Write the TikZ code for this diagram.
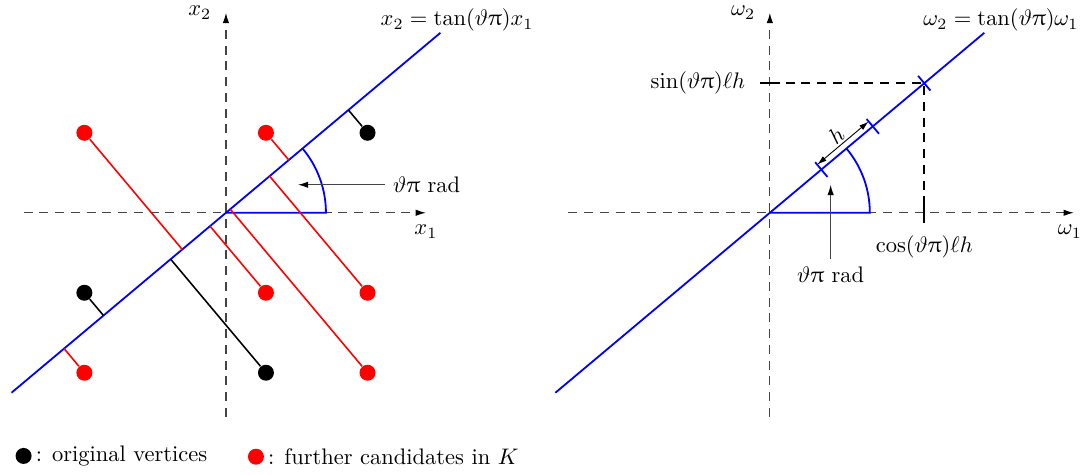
\documentclass[tikz,border=0pt]{standalone}
\usepackage{amsmath,amssymb}
\usepackage{upgreek}
\usetikzlibrary{arrows.meta,positioning,calc}
\definecolor{lineblue}{HTML}{0000FF}
\definecolor{candred}{HTML}{FF0000}
\definecolor{axisgray}{HTML}{444444}
\tikzset{
  axisline/.style={draw=axisgray,dash pattern=on 4pt off 3pt,line width=0.5pt,-{Latex[length=1.6mm,width=1mm,black]}},
  fitline/.style={draw=lineblue,line width=0.8pt},
  vertex/.style={circle,fill=black,inner sep=0pt,minimum size=2.5mm},
  cand/.style={circle,fill=candred,inner sep=0pt,minimum size=2.5mm},
  projblack/.style={draw=black,line width=0.7pt},
  projred/.style={draw=candred,line width=0.7pt},
  lblarrow/.style={draw=axisgray,line width=0.5pt,-{Latex[length=1.6mm,width=1mm,black]}},
  hmark/.style={draw=black,line width=0.4pt,{Latex[length=1.5mm,width=0.9mm]}-{Latex[length=1.5mm,width=0.9mm]}},
  guide/.style={draw=black,dash pattern=on 4pt off 3pt,line width=0.9pt},
  tickmark/.style={draw=black,line width=0.9pt},
  bluetick/.style={draw=lineblue,line width=0.8pt},
  legend/.style={anchor=west,inner sep=1pt}
}

\begin{document}
\begin{tikzpicture}[x=1.25cm,y=1.25cm]
\path[use as bounding box] (-2.825,-3.275) rectangle (10.69,2.66);

% left panel: axes
\coordinate (lo) at (0,0);
\draw[axisline] (-2.53,0) -- (2.5,0);
\draw[axisline] (0,-2.55) -- (0,2.5);
\node[below=2pt] (lx1) at (2.5,0) {$x_1$};
\node[left=3pt] (lx2) at (0,2.5) {$x_2$};
% line through origin and angle
\coordinate (la) at (220:3.5); \coordinate (lb) at (40:3.5);
\draw[fitline] (la) -- (lb);
\node (leq) at (2.89,2.41) {$x_2=\tan(\vartheta\uppi)x_1$};
\draw[fitline] (lo) -- (1.25,0) arc[start angle=0,end angle=40,radius=1.25];
\node (lrad) at (2.51,0.35) {$\vartheta\uppi$ rad}; \coordinate (ltip) at (0.9,0.35);
\draw[lblarrow] (lrad) -- (ltip);

% points and their projections onto the line
\foreach \n/\p in {c1/{(-1.77,1)},c2/{(0.5,1)},c3/{(0.5,-1)},c4/{(1.77,-1)},c5/{(-1.77,-2)},c6/{(1.77,-2)}}{
\node[cand] (\n) at \p {};
\draw[projred] (\n) -- ($(la)!(\n)!(lb)$);
}
\foreach \n/\p in {v1/{(1.77,1)},v2/{(-1.77,-1)},v3/{(0.5,-2)}}{
\node[vertex] (\n) at \p {};
\draw[projblack] (\n) -- ($(la)!(\n)!(lb)$);
}

% legend
\node[vertex] (lgv) at (-2.53,-3.04) {};
\node[legend,right=0.5pt of lgv] (lgvt) {: original vertices};
\node[cand] (lgc) at (0.375,-3.05) {};
\node[legend,right=0.5pt of lgc] (lgct) {: further candidates in $K$};

% right panel: axes
\coordinate (ro) at (6.8,0);
\draw[axisline] ($(ro)+(-2.52,0)$) -- ($(ro)+(3.8,0)$);
\draw[axisline] ($(ro)+(0,-2.55)$) -- ($(ro)+(0,2.5)$);
\node[below=2pt] (rw1) at ($(ro)+(3.75,0)$) {$\omega_1$};
\node[left=3pt] (rw2) at ($(ro)+(0,2.5)$) {$\omega_2$};
\coordinate (ra) at ($(ro)+(220:3.5)$); \coordinate (rb) at ($(ro)+(40:3.5)$);
\draw[fitline] (ra) -- (rb);
\node (req) at ($(ro)+(2.89,2.41)$) {$\omega_2=\tan(\vartheta\uppi)\omega_1$};
\draw[fitline] (ro) -- ($(ro)+(1.25,0)$) arc[start angle=0,end angle=40,radius=1.25];
% steps of length h along the line
\foreach \k in {1,2,3}{
\draw[bluetick] ($(ro)+(40:{0.84*\k})+(130:0.12)$) -- ($(ro)+(40:{0.84*\k})+(-50:0.12)$);
}
\coordinate (rha) at ($(ro)+(40:0.84)+(130:0.08)$);
\coordinate (rhb) at ($(ro)+(40:1.68)+(130:0.08)$);
\draw[hmark] (rha) -- node[sloped,above,inner sep=1pt] (rhl) {$h$} (rhb);
% coordinates of the point l h
\coordinate (rt3) at ($(ro)+(40:2.52)$);
\coordinate (rsy) at (ro |- rt3); \coordinate (rcx) at (rt3 |- ro);
\draw[guide] (rsy) -- (rt3) -- (rcx);
\draw[tickmark] ($(rsy)+(-0.125,0)$) -- ($(rsy)+(0.125,0)$);
\draw[tickmark] ($(rcx)+(0,0.125)$) -- ($(rcx)+(0,-0.125)$);
\node[left=3pt] (rsin) at ($(rsy)+(-0.125,0)$) {$\sin(\vartheta\uppi)\ell h$};
\node[below=2pt] (rcos) at ($(rcx)+(0,-0.125)$) {$\cos(\vartheta\uppi)\ell h$};
\node (rrad) at (7.56,-0.78) {$\vartheta\uppi$ rad}; \coordinate (rtip) at (7.56,0.35);
\draw[lblarrow] (rrad) -- (rtip);
\end{tikzpicture}
\end{document}
